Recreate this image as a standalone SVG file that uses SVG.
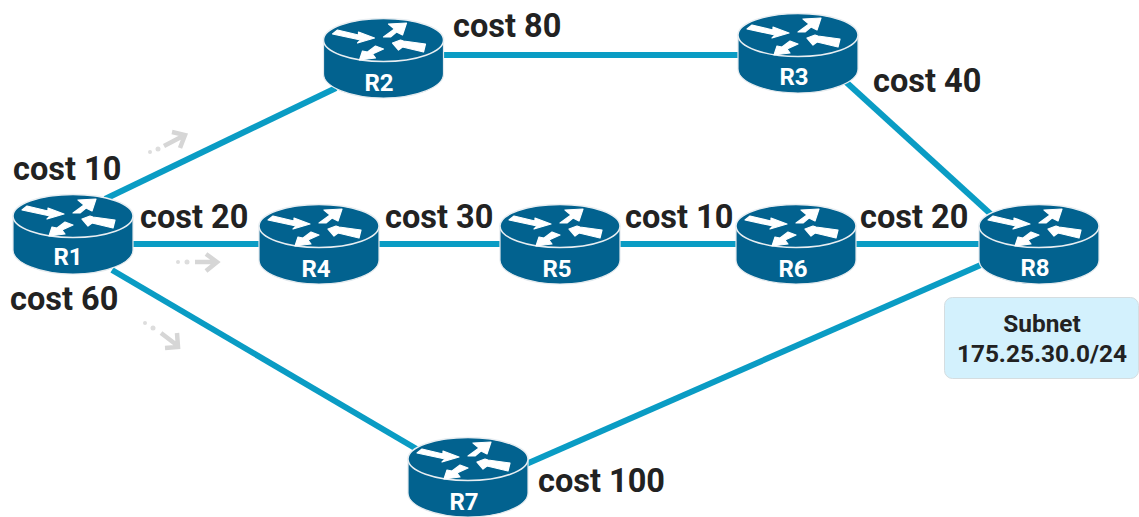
<svg xmlns="http://www.w3.org/2000/svg" width="1139" height="517" viewBox="0 0 1139 517">
<style>
.c{font-family:Roboto,"Liberation Sans",sans-serif;font-weight:700;font-size:32.500px;fill:#222}
.l{stroke:#0a9cc4;stroke-width:6;fill:none;stroke-linecap:butt}
.n{font-family:Roboto,"Liberation Sans",sans-serif;font-weight:700;font-size:24px;fill:#fff;text-anchor:middle}
.s{font-family:Roboto,"Liberation Sans",sans-serif;font-weight:700;font-size:24.400px;fill:#222;text-anchor:middle}
.g{stroke:#d6d6d6;fill:none;stroke-width:4.500}
</style>
<defs>
<g id="router">
<path d="M-60 0V34C-60 47-33 58 0 58S60 47 60 34V0Z" fill="#02628f" stroke="#e4eaee" stroke-width="1.2"/>
<ellipse cx="0" cy="0" rx="60" ry="21.500" fill="#02628f" stroke="#e8eef2" stroke-width="1.500"/>
<g fill="#fff" stroke="#fff" stroke-width="1.200" stroke-linejoin="round">
<path d="M-51-6-46-10-25-5-25-8-9-2-26 3-23 0Z"/>
<path d="M0-3 11-11 5-16 23-17 19-5 13-8 7-3Z"/>
<path d="M9 3 17 0 20 1 42 4 40 12 19 7 15 10Z"/>
<path d="M-24 20-21 11-16 12-8 6 0 9-11 14-8 18Z"/>
</g>
</g>
</defs>
<g id="connectors">
<path class="l" d="M105 199 336 88"/>
<path class="l" d="M440 55H742"/>
<path class="l" d="M846 82 995 218"/>
<path class="l" d="M130 244H263"/>
<path class="l" d="M376 244H504"/>
<path class="l" d="M616 244H740"/>
<path class="l" d="M853 244H983"/>
<path class="l" d="M112 270 420 451"/>
<path class="l" d="M524 465 983 264"/>
</g>
<g id="flow-arrows">
<circle cx="150" cy="152" r="2" fill="#ddd"/><circle cx="158" cy="149" r="2.500" fill="#ddd"/>
<path class="g" d="M164 146 183 136M172 132 185 135 180 148"/>
<circle cx="178" cy="262" r="2" fill="#ddd"/><circle cx="187" cy="262" r="2.500" fill="#ddd"/>
<path class="g" d="M195 262H216M206 254 217 262 206 271"/>
<circle cx="145" cy="323" r="2" fill="#ddd"/><circle cx="153" cy="328" r="2.500" fill="#ddd"/>
<path class="g" d="M161 333 178 346M177 333 178 347 165 348"/>
</g>
<g id="R1"><use href="#router" x="73" y="216"/><text class="n" x="68" y="265">R1</text></g>
<g id="R2"><use href="#router" x="383.500" y="40"/><text class="n" x="379" y="91">R2</text></g>
<g id="R3"><use href="#router" x="798" y="35"/><text class="n" x="794" y="85">R3</text></g>
<g id="R4"><use href="#router" x="319" y="226"/><text class="n" x="316" y="277">R4</text></g>
<g id="R5"><use href="#router" x="560" y="226"/><text class="n" x="557" y="277">R5</text></g>
<g id="R6"><use href="#router" x="796" y="226"/><text class="n" x="793" y="277">R6</text></g>
<g id="R7"><use href="#router" x="468" y="459"/><text class="n" x="464" y="510">R7</text></g>
<g id="R8"><use href="#router" x="1039" y="226"/><text class="n" x="1035" y="276">R8</text></g>
<g id="subnet">
<rect x="944.500" y="297.500" width="194" height="81" rx="8" fill="#d3f1fd" stroke="#d5dde0"/>
<text class="s" x="1042" y="332">Subnet</text>
<text class="s" x="1042" y="362">175.25.30.0/24</text>
</g>
<g id="labels">
<text class="c" x="13" y="180">cost 10</text>
<text class="c" x="140" y="228">cost 20</text>
<text class="c" x="10" y="310">cost 60</text>
<text class="c" x="453" y="37">cost 80</text>
<text class="c" x="873" y="92">cost 40</text>
<text class="c" x="385" y="228">cost 30</text>
<text class="c" x="625" y="228">cost 10</text>
<text class="c" x="860" y="228">cost 20</text>
<text class="c" x="538" y="492">cost 100</text>
</g>
</svg>
